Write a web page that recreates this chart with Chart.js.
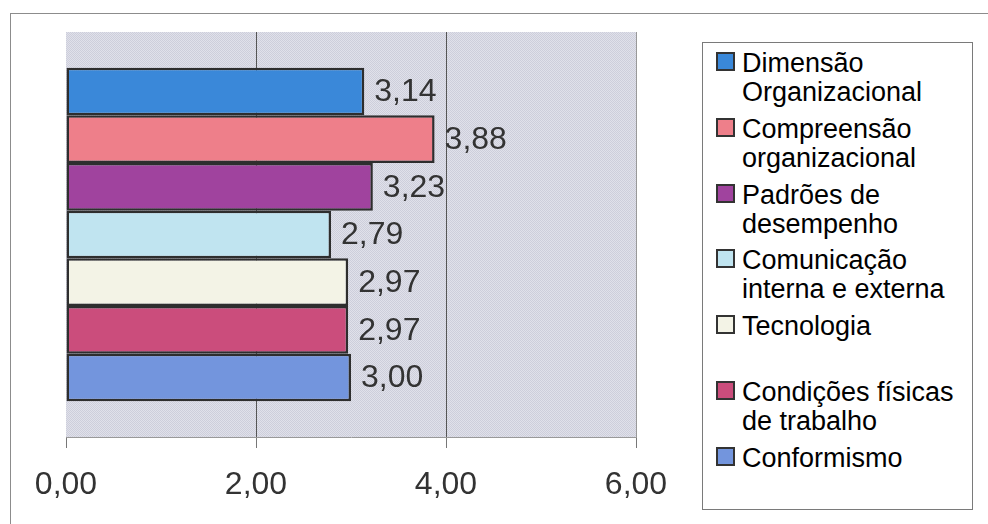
<!DOCTYPE html>
<html>
<head>
<meta charset="utf-8">
<script src="https://cdn.jsdelivr.net/npm/chart.js@4.4.1/dist/chart.umd.min.js"></script>
<style>
  html, body { margin: 0; padding: 0; background: #fff; }
  #wrap { position: relative; width: 988px; height: 524px; overflow: hidden; }
  #frame { position: absolute; left: 10px; top: 13px; width: 1000px; height: 600px; border: 1px solid #8c8c8c; }
  #bar-canvas { position: absolute; left: 0; top: 0; }
  #legend { position: absolute; left: 702px; top: 42px; width: 269px; height: 466px; border: 1px solid #7a7a7a;
            background: #fff; font-family: "Liberation Sans", Arial, sans-serif; font-size: 27px; color: #000; }
  #legend ul { list-style: none; margin: 0; padding: 6px 0 0 0; }
  #legend li { display: flex; align-items: flex-start; height: 65.8px; padding-left: 13px; }
  #legend .box { width: 15px; height: 15px; border: 2px solid #333; margin-top: 3px; margin-right: 7px; flex: none; }
  #legend .txt { line-height: 29px; width: 230px; }
</style>
</head>
<body>
<div id="wrap">
  <div id="frame"></div>
  <canvas id="bar-canvas" width="988" height="524"></canvas>
  <div id="legend"></div>
</div>
<script>
// data
var categories = [""];
var seriesNames = [
  "Dimensão Organizacional",
  "Compreensão organizacional",
  "Padrões de desempenho",
  "Comunicação interna e externa",
  "Tecnologia",
  "Condições físicas de trabalho",
  "Conformismo"
];
var seriesValues = [3.14, 3.88, 3.23, 2.79, 2.97, 2.97, 3.00];
var seriesColors = ["#3a88d9", "#ee7f8a", "#a0439e", "#c0e4f0", "#f3f3e6", "#cb4d7c", "#7395dd"];
var xTicks = [0, 2, 4, 6];

var fontFamily = '"Liberation Sans", Arial, sans-serif';

function fmt(v) {
  return v.toFixed(2).replace(".", ",");
}

//Hatched plot background
var patCanvas = document.createElement("canvas");
patCanvas.width = 2;
patCanvas.height = 2;
var pctx = patCanvas.getContext("2d");
pctx.fillStyle = "#cdcedb";
pctx.fillRect(0, 0, 2, 2);
pctx.fillStyle = "#e0e1ea";
pctx.fillRect(1, 0, 1, 1);
pctx.fillRect(0, 1, 1, 1);

var plotBg = {
  id: "plotBg",
  beforeDraw: function(chart) {
    var a = chart.chartArea, c = chart.ctx;
    c.save();
    c.fillStyle = c.createPattern(patCanvas, "repeat");
    c.fillRect(a.left, a.top, a.right - a.left, a.bottom - a.top);
    c.strokeStyle = "#999";
    c.lineWidth = 1;
    c.beginPath();
    c.moveTo(a.right + 0.5, a.top);
    c.lineTo(a.right + 0.5, a.bottom);
    c.stroke();
    c.restore();
  }
};

//Value labels next to each bar
var valueLabels = {
  id: "valueLabels",
  afterDatasetsDraw: function(chart) {
    var c = chart.ctx;
    c.save();
    c.font = "32px " + fontFamily;
    c.fillStyle = "#333";
    c.textAlign = "left";
    c.textBaseline = "middle";
    chart.data.datasets.forEach(function(ds, i) {
      var meta = chart.getDatasetMeta(i);
      meta.data.forEach(function(bar, j) {
        c.fillText(fmt(ds.data[j]), bar.x + 10, bar.y + 1);
      });
    });
    c.restore();
  }
};

//HTML legend built from the datasets
var htmlLegend = {
  id: "htmlLegend",
  afterUpdate: function(chart) {
    var html = "<ul>";
    chart.data.datasets.forEach(function(ds) {
      html += '<li><span class="box" style="background:' + ds.backgroundColor + '"></span>' +
              '<span class="txt">' + ds.label + "</span></li>";
    });
    html += "</ul>";
    document.getElementById("legend").innerHTML = html;
  }
};

var datasets = seriesNames.map(function(name, i) {
  return {
    label: name,
    data: [seriesValues[i]],
    backgroundColor: seriesColors[i],
    borderColor: "#2e2e2e",
    borderWidth: 2.5,
    borderSkipped: false,
    categoryPercentage: 0.824,
    barPercentage: 1
  };
});

var ctx = document.getElementById("bar-canvas");

var chart = new Chart(ctx, {
  type: "bar",
  data: {
    labels: categories,
    datasets: datasets
  },
  options: {
    indexAxis: "y",
    responsive: false,
    animation: false,
    layout: {
      padding: { left: 66, right: 352, top: 32, bottom: 0 }
    },
    plugins: {
      legend: { display: false },
      tooltip: { enabled: false }
    },
    scales: {
      x: {
        min: 0,
        max: 6,
        afterBuildTicks: function(scale) {
          scale.ticks = xTicks.map(function(v) { return { value: v }; });
        },
        afterFit: function(scale) {
          scale.height = 87;
        },
        grid: {
          color: function(c) {
            return (c.tick && (c.tick.value === 2 || c.tick.value === 4)) ? "#555" : "rgba(0,0,0,0)";
          },
          lineWidth: 1,
          drawTicks: true,
          tickLength: 11,
          tickColor: "#777"
        },
        border: { display: true, color: "#999", width: 1 },
        ticks: {
          color: "#333",
          padding: 18,
          maxRotation: 0,
          font: { family: fontFamily, size: 32 },
          callback: function(v) { return fmt(v); }
        }
      },
      y: {
        display: false
      }
    }
  },
  plugins: [plotBg, valueLabels, htmlLegend]
});
</script>
</body>
</html>
